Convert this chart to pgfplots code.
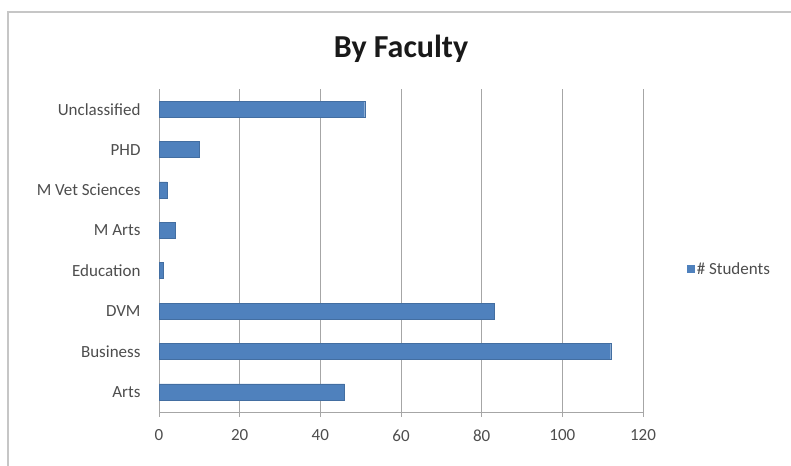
\documentclass[border=0pt]{standalone}
\usepackage{pgfplots}
\pgfplotsset{compat=1.18}
\usepackage{fontspec}
\setmainfont{Carlito}
\definecolor{barblue}{HTML}{4F81BD}
\definecolor{gridgray}{HTML}{A6A6A6}
\definecolor{labgray}{HTML}{4D4D4D}
\begin{document}
\begin{tikzpicture}
\path[use as bounding box] (0pt,0pt) rectangle (791pt,465pt);
\draw[gray!45, line width=2pt] (8pt,-2pt) -- (8pt,453pt) -- (793pt,453pt);
\begin{axis}[
  at={(159pt,53pt)}, anchor=south west,
  scale only axis, width=484pt, height=323pt,
  xbar, bar width=16pt,
  xmin=0, xmax=120, xtick={0,20,...,120},
  ymin=-0.5, ymax=7.5, ytick={0,...,7},
  yticklabels={Arts,Business,DVM,Education,M Arts,M Vet Sciences,PHD,Unclassified},
  minor ytick={-0.5,0.5,...,7.5},
  axis x line*=bottom, axis y line*=left,
  axis line style={gridgray, line width=0.8pt, -},
  xmajorgrids, grid style={gridgray, line width=0.8pt},
  tick align=outside,
  ytick style={draw=none},
  minor y tick style={gridgray, line width=0.8pt},
  minor tick length=5pt,
  xtick style={gridgray, line width=0.8pt},
  major tick length=5pt,
  /pgf/number format/assume math mode=true,
  ticklabel style={font=\fontsize{17}{20}\selectfont, text=labgray},
  xticklabel style={yshift=-9pt},
  yticklabel style={xshift=-10pt},
  title={By Faculty},
  title style={font=\bfseries\fontsize{32}{36}\selectfont, at={(0.5,1)}, anchor=center, yshift=34pt, text=black!90},
  legend style={draw=none, at={(1.085,0.443)}, anchor=west, font=\fontsize{17}{20}\selectfont, text=labgray},
  legend image code/.code={\fill[barblue] (0pt,-3.5pt) rectangle (7pt,3.5pt);},
]
\addplot[fill=barblue, draw=barblue!85!black] coordinates {
  (46,0) (112,1) (83,2) (1,3) (4,4) (2,5) (10,6) (51,7)
};
\addlegendentry{\# Students}
\end{axis}
\end{tikzpicture}
\end{document}
